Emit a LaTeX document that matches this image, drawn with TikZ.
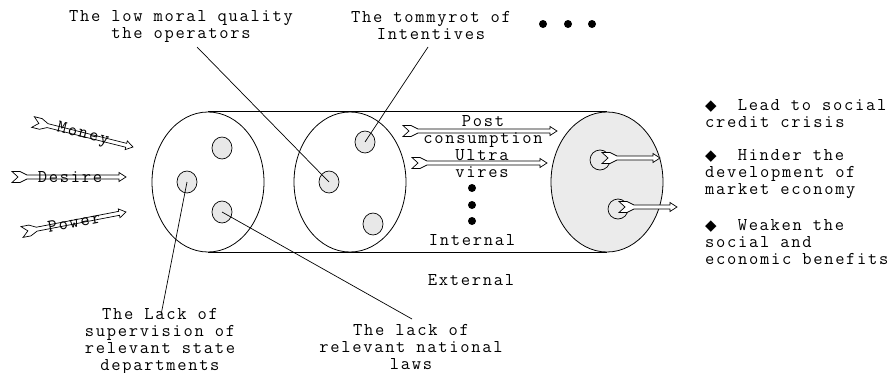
\documentclass[tikz,border=0pt]{standalone}
\usepackage{fontspec}
\usetikzlibrary{calc,shapes.geometric}
\newfontfamily\monof{Latin Modern Mono}[LetterSpace=9.5]
\newfontfamily\symf{DejaVu Sans}
\newcommand\dia{\makebox[21.6pt][l]{\symf\fontsize{15}{15}\selectfont\raisebox{0.5pt}{◆}}}
\newcommand\fletched[2]{%
 \draw[farrow]
 ($(#1)!5.5pt!90:(#2)$) --
 ($(#1)!8pt!(#2)!5.5pt!90:(#2)$) --
 ($(#1)!15pt!(#2)!2pt!90:(#2)$) --
 ($(#2)!7pt!(#1)!2pt!-90:(#1)$) --
 ($(#2)!7pt!(#1)!4.5pt!-90:(#1)$) --
 (#2) --
 ($(#2)!7pt!(#1)!4.5pt!90:(#1)$) --
 ($(#2)!7pt!(#1)!2pt!90:(#1)$) --
 ($(#1)!15pt!(#2)!2pt!-90:(#2)$) --
 ($(#1)!8pt!(#2)!5.5pt!-90:(#2)$) --
 ($(#1)!5.5pt!-90:(#2)$) --
 ($(#1)!6pt!(#2)$) -- cycle;}
\begin{document}
\begin{tikzpicture}[x=1pt,y=-1pt,
 txt/.style={font=\monof\fontsize{18}{17}\selectfont, inner sep=0pt, align=center},
 ltxt/.style={txt, align=left, anchor=west},
 bigface/.style={ellipse, draw, line width=0.8pt, minimum width=112pt, minimum height=140pt, inner sep=0pt},
 blob/.style={ellipse, draw, line width=0.7pt, fill=black!9, minimum width=20pt, minimum height=22pt, inner sep=0pt},
 ring/.style={circle, draw, line width=0.7pt, minimum size=20pt, inner sep=0pt},
 bdot/.style={circle, fill=black, minimum size=8pt, inner sep=0pt},
 leader/.style={line width=0.7pt},
 farrow/.style={draw, line width=0.7pt, fill=white, line join=miter}]
\useasboundingbox (0,0) rectangle (891,372);
% cylinder faces
\node[bigface] (f1) at (208,182) {};
\node[bigface] (f2) at (350,182) {};
\node[bigface, fill=black!8] (f3) at (607,182) {};
\draw[line width=0.8pt] (f1.north) -- (f3.north) (f1.south) -- (f3.south);
% blobs
\node[blob] (b1) at (222,148) {};
\node[blob] (b2) at (187,182) {};
\node[blob] (b3) at (222,212) {};
\node[blob] (b4) at (365,142) {};
\node[blob] (b5) at (329,182) {};
\node[blob] (b6) at (373,224) {};
\node[ring] (r1) at (600,160) {};
\node[ring] (r2) at (618,209) {};
% arrow end points
\coordinate (ma) at (33,122);  \coordinate (mb) at (133,147);
\coordinate (da) at (12,177);  \coordinate (db) at (126,177);
\coordinate (pa) at (22,232);  \coordinate (pb) at (126,212);
\coordinate (qa) at (403,131); \coordinate (qb) at (557,131);
\coordinate (ua) at (412,163); \coordinate (ub) at (547,163);
\coordinate (ra) at (602,158); \coordinate (rb) at (660,158);
\coordinate (sa) at (619,207); \coordinate (sb) at (677,207);
\fletched{ma}{mb}
\fletched{da}{db}
\fletched{pa}{pb}
\fletched{qa}{qb}
\fletched{ua}{ub}
\fletched{ra}{rb}
\fletched{sa}{sb}
% arrow labels
\node[txt, rotate=-14] (tmoney) at ($(ma)!0.5!(mb)$) {Money};
\node[txt] (tdesire) at (70,177) {Desire};
\node[txt, rotate=11] (tpower) at ($(pa)!0.5!(pb)$) {Power};
\node[txt] (tpost) at (483,131.5) {Post\\consumption};
\node[txt] (tultra) at (482,163.5) {Ultra\\vires};
% dots
\node[bdot] (d1) at (543,24) {};
\node[bdot] (d2) at (568,24) {};
\node[bdot] (d3) at (592,24) {};
\node[bdot] (v1) at (472,188) {};
\node[bdot] (v2) at (472,205) {};
\node[bdot] (v3) at (472,221) {};
% texts
\node[txt] (tint) at (472,240) {Internal};
\node[txt] (text) at (471,280) {External};
\node[txt] (top1) at (181,26) {The low moral quality\\the operators};
\node[txt] (top2) at (431,26) {The tommyrot of\\Intentives};
\node[txt] (bot1) at (160,341) {The Lack of\\supervision of\\relevant state\\departments};
\node[txt] (bot2) at (411,347) {The lack of\\relevant national\\laws};
\node[ltxt] (c1) at (705,114) {\dia{} Lead to social\\credit crisis};
\node[ltxt] (c2) at (705,174.5) {\dia{} Hinder the\\development of\\market economy};
\node[ltxt] (c3) at (705,242.5) {\dia{} Weaken the\\social and\\economic benefits};
% leaders
\coordinate (l1) at (197,47);
\coordinate (l2) at (428,47);
\coordinate (l3) at (161,315);
\coordinate (l4) at (412,319);
\draw[leader] (l1) -- (b5.center);
\draw[leader] (l2) -- (b4.center);
\draw[leader] (b2.center) -- (l3);
\draw[leader] (b3.center) -- (l4);
\end{tikzpicture}
\end{document}
